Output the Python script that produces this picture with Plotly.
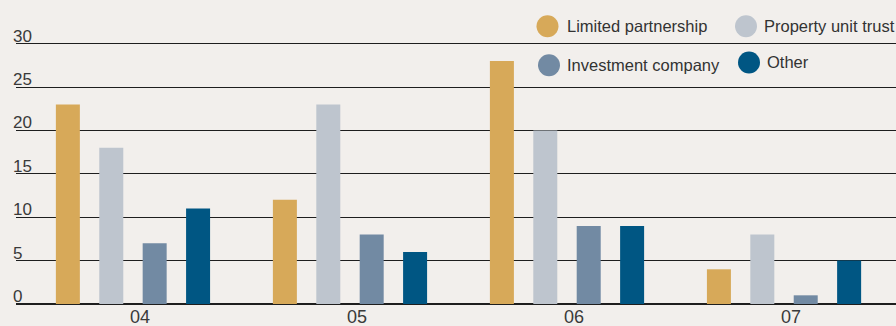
import plotly.graph_objects as go

# ---- data ----
years = ["04", "05", "06", "07"]
series_names = ["Limited partnership", "Property unit trust", "Investment company", "Other"]
limited_partnership = [23, 12, 28, 4]
property_unit_trust = [18, 23, 20, 8]
investment_company = [7, 8, 9, 1]
other = [11, 6, 9, 5]
y_ticks = [0, 5, 10, 15, 20, 25, 30]

# ---- style ----
colors = ["#d7a959", "#bec5ce", "#728aa3", "#005683"]
bg = "#f2efec"
W, H = 896, 326
ML, MR, MT, MB = 16, 0, 35, 22
font_fam = "Liberation Sans, Arial, sans-serif"

values = [limited_partnership, property_unit_trust, investment_company, other]

fig = go.Figure()
for name, vals, col in zip(series_names, values, colors):
    fig.add_trace(go.Bar(x=years, y=vals, name=name, marker=dict(color=col, line=dict(width=0)),
                         showlegend=False))

plot_w = W - ML - MR
plot_h = H - MT - MB

def px2paper(px, py):
    return (px - ML) / plot_w, (H - MB - py) / plot_h

# y tick labels as annotations above gridlines
annotations = []
for t in y_ticks:
    annotations.append(dict(x=0, y=t, xref="paper", yref="y", text=str(t), showarrow=False,
                            xanchor="left", yanchor="bottom", xshift=-5, yshift=-4,
                            font=dict(family=font_fam, size=17, color="#3a3a3a")))

# manual legend (circles + text)
legend_items = [
    (547.5, 26.3, 566, 26.3),
    (746, 26.3, 762.5, 26.3),
    (549, 65.3, 566, 65.3),
    (749, 62.5, 765.5, 62.0),
]
shapes = []
r = 11
for (cx, cy, tx, ty), name, col in zip(legend_items, series_names, colors):
    ax, ay = px2paper(cx, cy)
    shapes.append(dict(type="circle", xref="paper", yref="paper", xsizemode="pixel", ysizemode="pixel",
                       xanchor=ax, yanchor=ay, x0=-r, x1=r, y0=-r, y1=r,
                       fillcolor=col, line=dict(width=0), layer="above"))
    txp, typ = px2paper(tx, ty)
    annotations.append(dict(x=txp, y=typ, xref="paper", yref="paper", text=name, showarrow=False,
                            xanchor="left", yanchor="middle", borderpad=0,
                            font=dict(family=font_fam, size=16.5, color="#333333")))

fig.update_layout(
    width=W, height=H,
    margin=dict(l=ML, r=MR, t=MT, b=MB, autoexpand=False),
    paper_bgcolor=bg, plot_bgcolor=bg,
    barmode="group", bargap=0.2, bargroupgap=0.447,
    font=dict(family=font_fam, size=17, color="#3a3a3a"),
    xaxis=dict(type="category", range=[-0.539, 3.516], showgrid=False, zeroline=False,
               showline=False, ticks="", tickfont=dict(size=18, color="#3a3a3a"),
               ticklabelshift=7, ticklabelstandoff=0, automargin=False),
    yaxis=dict(range=[0, 31], tickvals=y_ticks, showticklabels=False, showgrid=True,
               gridcolor="#1e1e1e", gridwidth=1, zeroline=True, zerolinecolor="#1e1e1e",
               zerolinewidth=1.5, showline=False, ticks="", automargin=False),
    annotations=annotations,
    shapes=shapes,
)

fig.write_html("out.html")
